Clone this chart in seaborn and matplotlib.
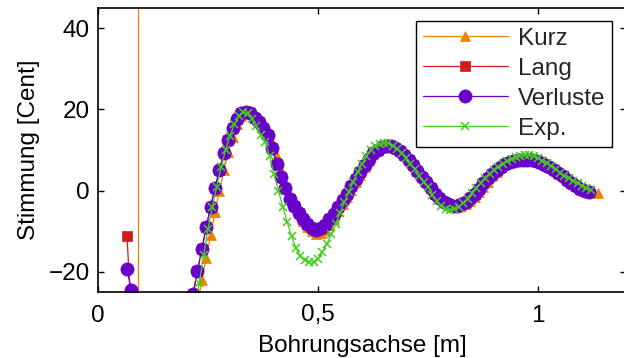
import numpy as np
import pandas as pd
import seaborn as sns
import matplotlib.pyplot as plt

# shared sample grid of the computed curves [m]
x_grid = [0.216, 0.226, 0.236, 0.246, 0.256, 0.266, 0.276, 0.286, 0.296, 0.306,
          0.316, 0.326, 0.336, 0.346, 0.356, 0.366, 0.376, 0.386, 0.396, 0.406,
          0.416, 0.426, 0.436, 0.446, 0.456, 0.466, 0.476, 0.486, 0.496, 0.506,
          0.516, 0.526, 0.536, 0.546, 0.556, 0.566, 0.576, 0.586, 0.596, 0.606,
          0.616, 0.626, 0.636, 0.646, 0.656, 0.666, 0.676, 0.686, 0.696, 0.706,
          0.716, 0.726, 0.736, 0.746, 0.756, 0.766, 0.776, 0.786, 0.796, 0.806,
          0.816, 0.826, 0.836, 0.846, 0.856, 0.866, 0.876, 0.886, 0.896, 0.906,
          0.916, 0.926, 0.936, 0.946, 0.956, 0.966, 0.976, 0.986, 0.996, 1.006,
          1.016, 1.026, 1.036, 1.046, 1.056, 1.066, 1.076, 1.086, 1.096, 1.106,
          1.116]

# Verluste (purple) on x_grid
verluste_curve = [-25.5, -19.8, -14.5, -9.0, -4.0, 0.7, 5.1, 9.2, 12.5, 15.3,
                  17.6, 19.0, 19.4, 19.0, 18.0, 16.8, 15.3, 13.8, 10.4, 6.6,
                  3.4, 0.6, -2.0, -3.9, -5.6, -7.1, -8.3, -9.2, -9.6, -9.3,
                  -8.4, -7.1, -5.7, -4.0, -2.4, -0.8, 1.1, 2.9, 4.6, 6.4,
                  7.9, 9.2, 10.1, 10.7, 11.0, 10.9, 10.5, 9.8, 8.8, 7.6,
                  6.2, 4.8, 3.4, 2.0, 0.6, -0.8, -1.9, -2.8, -3.4, -3.7,
                  -3.7, -3.4, -2.8, -1.9, -0.8, 0.5, 1.8, 3.0, 4.1, 5.1,
                  5.9, 6.6, 7.0, 7.3, 7.5, 7.6, 7.6, 7.5, 7.2, 6.8,
                  6.3, 5.7, 5.0, 4.3, 3.5, 2.7, 1.9, 1.2, 0.5, 0.0,
                  -0.4]

# Kurz (orange) on x_grid plus one more point at the end
kurz_curve = [-35.0, -28.5, -22.0, -16.5, -11.0, -5.2, 0.0, 5.0, 9.5, 13.2,
              16.3, 18.5, 19.6, 19.6, 18.8, 17.6, 16.2, 14.6, 12.0, 8.4,
              5.0, 1.8, -1.0, -3.5, -5.6, -7.4, -8.9, -10.0, -10.6, -10.5,
              -9.8, -8.5, -6.9, -5.1, -3.3, -1.6, 0.2, 2.0, 3.9, 5.7,
              7.4, 8.9, 10.1, 10.9, 11.4, 11.5, 11.2, 10.6, 9.7, 8.6,
              7.3, 5.9, 4.5, 3.0, 1.6, 0.2, -1.1, -2.2, -3.1, -3.7,
              -4.0, -3.9, -3.4, -2.6, -1.6, -0.4, 0.9, 2.2, 3.5, 4.7,
              5.7, 6.6, 7.3, 7.8, 8.1, 8.3, 8.4, 8.3, 8.1, 7.7,
              7.2, 6.6, 5.9, 5.2, 4.4, 3.6, 2.8, 2.0, 1.3, 0.7,
              0.2]
kurz_tail_x = [1.126, 1.136]
kurz_tail_y = [-0.2, -0.5]

# near the mouthpiece (mostly off scale)
kurz_head_x = [0.066, 0.076, 0.086, 0.092, 0.092]
kurz_head_y = [60.0, 75.0, 110.0, 300.0, -300.0]
lang_head_x = [0.066, 0.076]
lang_head_y = [-11.3, -32.0]
verluste_head_x = [0.066, 0.076, 0.086]
verluste_head_y = [-19.4, -24.5, -40.0]

# Exp. (green) measurement
exp_x = [0.22, 0.23, 0.24, 0.25, 0.26, 0.27, 0.28, 0.29, 0.30, 0.31,
         0.32, 0.33, 0.34, 0.35, 0.36, 0.37, 0.38, 0.39, 0.40, 0.41,
         0.42, 0.43, 0.44, 0.45, 0.46, 0.47, 0.48, 0.49, 0.50, 0.51,
         0.52, 0.53, 0.54, 0.55, 0.56, 0.57, 0.58, 0.59, 0.60, 0.61,
         0.62, 0.63, 0.64, 0.65, 0.66, 0.67, 0.68, 0.69, 0.70, 0.71,
         0.72, 0.73, 0.74, 0.75, 0.76, 0.77, 0.78, 0.79, 0.80, 0.81,
         0.82, 0.83, 0.84, 0.85, 0.86, 0.87, 0.88, 0.89, 0.90, 0.91,
         0.92, 0.93, 0.94, 0.95, 0.96, 0.97, 0.98, 0.99, 1.00, 1.01,
         1.02, 1.03, 1.04, 1.05, 1.06, 1.07, 1.08, 1.09, 1.10, 1.11,
         1.12]
exp_y = [-30.0, -22.8, -16.0, -9.5, -4.0, 1.0, 5.8, 10.0, 13.5, 16.3,
         18.3, 19.3, 19.0, 17.7, 15.8, 13.6, 12.0, 8.5, 4.0, 0.0,
         -4.0, -7.8, -11.3, -14.2, -16.2, -17.2, -17.6, -17.6, -16.8, -15.2,
         -13.2, -10.8, -8.2, -5.5, -2.8, -0.3, 2.2, 4.5, 6.6, 8.4,
         9.9, 11.0, 11.6, 11.8, 11.7, 11.1, 10.3, 9.2, 8.0, 6.6,
         5.2, 3.7, 2.2, 1.0, -1.0, -2.6, -3.9, -4.6, -4.8, -4.6,
         -4.0, -3.1, -2.0, -0.7, 0.6, 1.8, 3.0, 4.1, 5.1, 5.9,
         6.6, 7.2, 7.8, 8.3, 8.6, 8.8, 8.8, 8.5, 8.0, 7.4,
         6.7, 6.0, 5.2, 4.4, 3.7, 3.0, 2.4, 1.8, 1.2, 0.7,
         0.2]

x_ticks = [0, 0.5, 1]
x_tick_labels = ['0', '0,5', '1']
y_ticks = [-20, 0, 20, 40]
y_tick_labels = ['\u221220', '0', '20', '40']

sns.set_theme(style='white')
plt.rcParams['font.family'] = ['Liberation Sans', 'DejaVu Sans']
FS = 17.5

# Lang lies underneath Verluste over the whole resonator
series = [
    ('Kurz', kurz_head_x + x_grid + kurz_tail_x, kurz_head_y + kurz_curve + kurz_tail_y,
     '#EC8200', '^', 7.5),
    ('Lang', lang_head_x + x_grid, lang_head_y + verluste_curve, '#D01C1C', 's', 6.5),
    ('Verluste', verluste_head_x + x_grid, verluste_head_y + verluste_curve,
     '#6A00CC', 'o', 9.5),
    ('Exp.', exp_x, exp_y, '#44CC1E', 'x', 5.5),
]

fig = plt.figure(figsize=(6.24, 3.58), dpi=100)
ax = fig.add_axes([98 / 624, 1 - 292 / 358, 528 / 624, 284 / 358])

for name, xs, ys, col, mk, ms in series:
    df = pd.DataFrame({'x': xs, 'y': ys})
    sns.lineplot(data=df, x='x', y='y', sort=False, estimator=None, ax=ax,
                 color=col, linewidth=0.9, marker=mk, markersize=ms,
                 markerfacecolor=col, markeredgecolor=col,
                 markeredgewidth=1.1 if mk == 'x' else 0.5, label=name)

ax.set_xlim(0, 1.2)
ax.set_ylim(-25, 45)
ax.set_xticks(x_ticks)
ax.set_xticklabels(x_tick_labels)
ax.set_yticks(y_ticks)
ax.set_yticklabels(y_tick_labels)
ax.tick_params(axis='both', direction='in', length=4, width=1, color='black',
               labelsize=FS, labelcolor='black', top=True, right=True,
               bottom=True, left=True)
ax.tick_params(axis='x', pad=9)
ax.tick_params(axis='y', pad=6)
for sp in ax.spines.values():
    sp.set_color('black')
    sp.set_linewidth(1.2)

ax.set_xlabel('Bohrungsachse [m]', fontsize=FS, color='black', labelpad=6)
ax.set_ylabel('Stimmung [Cent]', fontsize=FS, color='black', labelpad=6)

leg = ax.legend(loc='upper right', bbox_to_anchor=(612 / 624, 1 - 21 / 358),
                bbox_transform=fig.transFigure, borderaxespad=0, fontsize=FS,
                frameon=True, fancybox=False, framealpha=1, edgecolor='black',
                handlelength=3.5, handletextpad=0.4, labelspacing=0.33,
                borderpad=0.28)
leg.get_frame().set_linewidth(1.0)

fig.savefig('out.png', dpi=100)
